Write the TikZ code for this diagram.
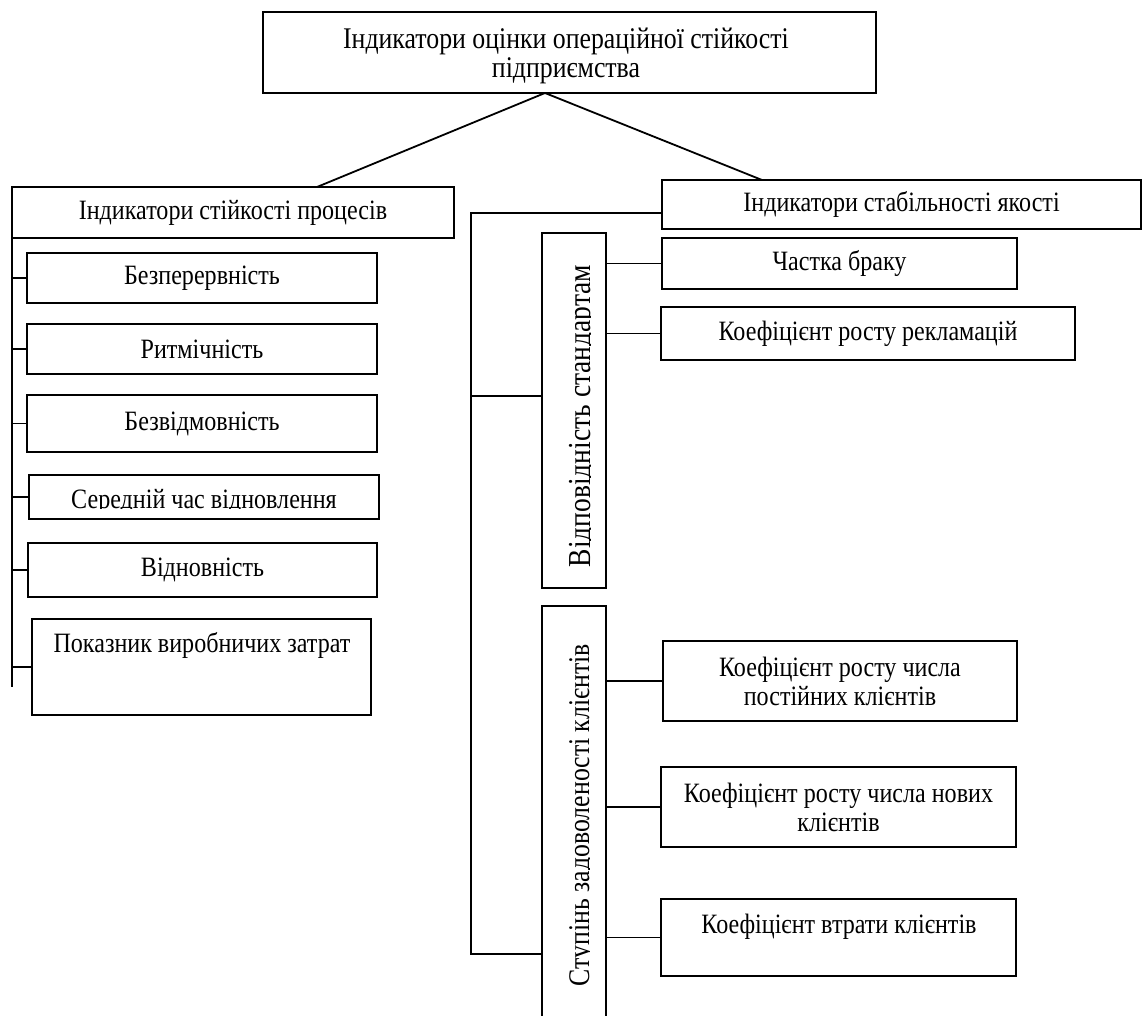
\documentclass[tikz,border=0pt]{standalone}
\usepackage{fontspec}
\setmainfont{Liberation Serif}[FakeStretch=0.86]
\begin{document}
\begin{tikzpicture}[x=1pt,y=-1pt,line width=1.8pt,
  box/.style={draw, rectangle, inner sep=0pt, outer sep=0pt},
  txt/.style={inner sep=0pt, align=center, font=\fontsize{28}{29}\selectfont},
  bigtxt/.style={inner sep=0pt, align=center, font=\fontsize{30}{29}\selectfont},
  vtxt/.style={inner sep=0pt, rotate=90, anchor=base}]
\useasboundingbox (0,0) rectangle (1142,1016);

% top
\node[box, minimum width=613pt, minimum height=81pt] (top) at (569.5,52.5) {};
\node[bigtxt] (ttop) at (566,55.5) {Індикатори оцінки операційної стійкості\\підприємства};
\node[box, txt, minimum width=442pt, minimum height=51pt] (L) at (233,212.5) {Індикатори стійкості процесів};
\node[box, txt, minimum width=479pt, minimum height=49pt] (R) at (901.5,204.5) {Індикатори стабільності якості};
\coordinate (apex) at (545,93);
\coordinate (Ltop) at (317,187);
\coordinate (Rtop) at (762,180);
\draw (apex) -- (Ltop);
\draw (apex) -- (Rtop);

% left column
\node[box, txt, minimum width=350pt, minimum height=50pt] (b1) at (202,278) {Безперервність};
\node[box, txt, minimum width=350pt, minimum height=50pt] (b2) at (202,349) {Ритмічність};
\node[box, txt, minimum width=350pt, minimum height=57pt] (b3) at (202,423.5) {Безвідмовність};
\node[box, minimum width=350pt, minimum height=44pt] (b4) at (204,497) {};
\begin{scope}
\clip (30,476) rectangle (378,508);
\node[txt, anchor=base] (t4) at (204,508) {Середній час відновлення};
\end{scope}
\node[box, txt, minimum width=349pt, minimum height=54pt] (b5) at (202.5,570) {Відновність};
\node[box, minimum width=339pt, minimum height=96pt] (b6) at (201.5,667) {};
\node[txt, anchor=base] (t6) at (202,652) {Показник виробничих затрат};
\coordinate (spB) at (12,687);
\draw (L.south west) -- (spB);
\foreach \n in {b1,b2,b3,b4,b5,b6} \draw (\n.west -| spB) -- (\n.west);

% right column
\node[box, minimum width=64pt, minimum height=355pt] (V) at (574,410.5) {};
\begin{scope}
\clip (544,235) rectangle (590,586);
\node[vtxt, font=\fontsize{32}{34}\selectfont] (tv) at (590,416) {Відповідність стандартам};
\end{scope}
\node[box, minimum width=64pt, minimum height=424pt] (S) at (574,818) {};
\begin{scope}
\clip (544,608) rectangle (589,1016);
\node[vtxt, font=\fontsize{30}{34}\selectfont] (ts) at (589,815) {Ступінь задоволеності клієнтів};
\end{scope}

\coordinate (brT) at (471,213);
\coordinate (brV) at (471,396);
\coordinate (brB) at (471,954);
\draw (brT -| R.west) -- (brT) -- (brB) -- (brB -| S.west);
\draw (brV) -- (brV -| V.west);

\node[box, txt, minimum width=355pt, minimum height=51pt] (r1) at (839.5,263.5) {Частка браку};
\node[box, txt, minimum width=414pt, minimum height=53pt] (r2) at (868,333.5) {Коефіцієнт росту рекламацій};
\node[box, txt, minimum width=354pt, minimum height=80pt] (r3) at (840,681) {Коефіцієнт росту числа\\постійних клієнтів};
\node[box, txt, minimum width=355pt, minimum height=80pt] (r4) at (838.5,807) {Коефіцієнт росту числа нових\\клієнтів};
\node[box, minimum width=355pt, minimum height=77pt] (r5) at (838.5,937.5) {};
\node[txt, anchor=base] (t5) at (839,933) {Коефіцієнт втрати клієнтів};
\foreach \n in {r1,r2} \draw (V.east |- \n.west) -- (\n.west);
\foreach \n in {r3,r4,r5} \draw (S.east |- \n.west) -- (\n.west);
\end{tikzpicture}
\end{document}
